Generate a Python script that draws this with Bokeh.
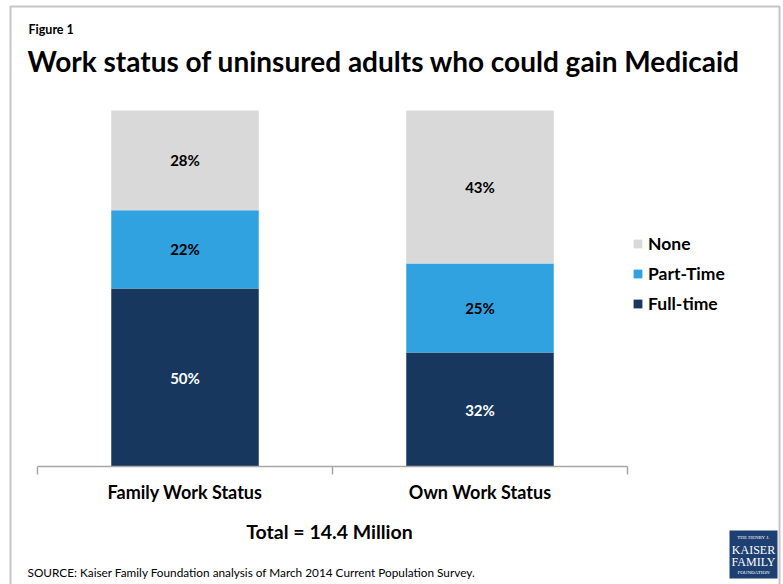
from bokeh.plotting import figure
from bokeh.models import (Range1d, Legend, LegendItem, Label, BoxAnnotation, ColumnDataSource, LabelSet)
from bokeh.core.properties import value
from bokeh.embed import file_html
from bokeh.resources import INLINE

# ---- data ----
categories = ["Family Work Status", "Own Work Status"]
series = ["Full-time", "Part-Time", "None"]
full_time = [50, 32]
part_time = [22, 25]
none_work = [28, 43]
colors = ["#17375e", "#31a2e0", "#d9d9d9"]
label_colors = ["white", "black", "black"]
fig_label = "Figure 1"
title_text = "Work status of uninsured adults who could gain Medicaid"
total_text = "Total = 14.4 Million"
source_text = "SOURCE: Kaiser Family Foundation analysis of March 2014 Current Population Survey."
logo_lines = ["THE HENRY J.", "KAISER", "FAMILY", "FOUNDATION"]

FONT = "Lato"

# ---- layout (pixels) ----
W, H = 783, 584
PLOT_L, PLOT_R, PLOT_T, PLOT_B = 37, 627, 110, 466
n = len(categories)
px_x = (PLOT_R - PLOT_L) / n
px_y = (PLOT_B - PLOT_T) / 100.0


def ydata(pix):
    return (PLOT_B - pix) / px_y


xpos = [i + 0.5 for i in range(n)]
data = {"x": xpos, "cat": categories, "Full-time": full_time, "Part-Time": part_time, "None": none_work}
src = ColumnDataSource(data)

p = figure(x_range=Range1d(-PLOT_L / px_x, n + (W - PLOT_R) / px_x),
           y_range=Range1d(ydata(H), ydata(0)),
           width=W, height=H, output_backend="svg", toolbar_location=None,
           x_axis_location=None, y_axis_location=None, min_border=0)
p.background_fill_color = "white"
p.border_fill_color = "white"
p.outline_line_color = None
p.grid.visible = False

renderers = p.vbar_stack(series, x="x", width=0.5, color=colors, source=src, line_color=None)

# segment labels
lx, ly, lt, lc = [], [], [], []
for i, c in enumerate(categories):
    base = 0
    for s, col in zip(series, label_colors):
        v = data[s][i]
        lx.append(xpos[i]); ly.append(base + v / 2); lt.append(f"{v}%"); lc.append(col)
        base += v
lsrc = ColumnDataSource(dict(x=lx, y=ly, t=lt, c=lc))
p.add_layout(LabelSet(x="x", y="y", text="t", source=lsrc, text_color="c",
                      text_align="center", text_baseline="middle",
                      text_font=value(FONT), text_font_style="bold", text_font_size="15px"))

# category axis: baseline, boundary ticks, labels
edges = list(range(n + 1))
p.segment(x0=[0], y0=[0], x1=[n], y1=[0], line_color="#a6a6a6", line_width=1.5)
p.segment(x0=edges, y0=[0] * len(edges), x1=edges, y1=[ydata(PLOT_B + 8)] * len(edges),
          line_color="#a6a6a6", line_width=1.5)
p.text(x=xpos, y=[ydata(491)] * n, text=categories, text_align="center", text_baseline="middle",
       text_font=value(FONT), text_font_style="bold", text_font_size="18px", text_color="black")

# legend
items = [LegendItem(label=s, renderers=[r]) for s, r in zip(series, renderers)][::-1]
legend = Legend(items=items, location=(632, 270), orientation="vertical",
                label_text_font=FONT, label_text_font_style="bold", label_text_font_size="17.5px",
                label_text_color="black", glyph_width=11, glyph_height=11, label_height=20,
                spacing=9, padding=5, margin=0, label_standoff=5,
                border_line_color=None, background_fill_alpha=0)
p.add_layout(legend)

# texts
p.add_layout(Label(x=28, y=29, x_units="canvas", y_units="canvas", text=fig_label,
                   text_font=FONT, text_font_style="bold", text_font_size="12.5px",
                   text_baseline="middle", text_color="black"))
p.add_layout(Label(x=27, y=60, x_units="canvas", y_units="canvas", text=title_text,
                   text_font=FONT, text_font_style="bold", text_font_size="28px",
                   text_baseline="middle", text_color="black"))
p.add_layout(Label(x=329, y=531, x_units="canvas", y_units="canvas", text=total_text,
                   text_font=FONT, text_font_style="bold", text_font_size="19.5px",
                   text_baseline="middle", text_align="center", text_color="black"))
p.add_layout(Label(x=27, y=572, x_units="canvas", y_units="canvas", text=source_text,
                   text_font=FONT, text_font_size="11.8px", text_baseline="middle",
                   text_color="black"))

# outer border
p.add_layout(BoxAnnotation(left=10, right=779, top=6, bottom=H + 10, left_units="canvas",
                           right_units="canvas", top_units="canvas", bottom_units="canvas",
                           fill_alpha=0, line_color="#404040", line_width=2))
# logo
p.add_layout(BoxAnnotation(left=729, right=777, top=530, bottom=578, left_units="canvas",
                           right_units="canvas", top_units="canvas", bottom_units="canvas",
                           fill_color="#1d3f72", fill_alpha=1, line_color=None))
for txt, yy, sz in zip(logo_lines, [537, 549, 561, 572], ["5px", "12px", "12px", "5px"]):
    p.add_layout(Label(x=753, y=yy, x_units="canvas", y_units="canvas", text=txt,
                       text_font="Liberation Serif", text_font_size=sz, text_color="white",
                       text_align="center", text_baseline="middle"))

open("out.html", "w").write(file_html(p, INLINE))
